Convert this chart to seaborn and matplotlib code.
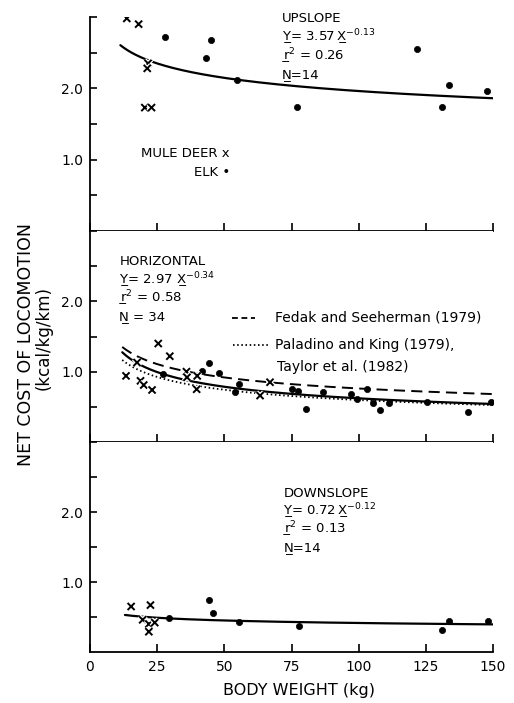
import numpy as np
import pandas as pd
import matplotlib
matplotlib.use("Agg")
import matplotlib.pyplot as plt
import seaborn as sns
from matplotlib import patheffects as pe

# ---------------- data ----------------
up_deer_x = [13.7, 18.1, 21.6, 21.3, 20.4, 22.9]
up_deer_y = [2.98, 2.90, 2.35, 2.28, 1.73, 1.73]
up_elk_x = [28.1, 43.0, 45.1, 54.8, 77.2, 121.8, 131.0, 133.6, 147.9]
up_elk_y = [2.72, 2.42, 2.68, 2.12, 1.74, 2.55, 1.74, 2.04, 1.96]

hz_deer_x = [25.4, 29.7, 13.4, 17.5, 18.8, 20.0, 23.1, 35.9, 36.1, 39.7, 39.9, 63.3, 67.0]
hz_deer_y = [1.40, 1.22, 0.94, 1.13, 0.87, 0.81, 0.74, 1.00, 0.92, 0.75, 0.94, 0.66, 0.85]
hz_elk_x = [27.3, 41.8, 44.3, 48.0, 53.8, 55.4, 75.0, 77.6, 80.4, 86.8, 97.1, 99.4,
            103.1, 105.3, 107.8, 111.3, 125.5, 140.7, 149.4]
hz_elk_y = [0.96, 1.01, 1.13, 0.98, 0.71, 0.83, 0.76, 0.72, 0.47, 0.71, 0.68, 0.61,
            0.75, 0.56, 0.46, 0.55, 0.57, 0.43, 0.57]

dn_deer_x = [15.3, 22.5, 19.6, 21.9, 24.1, 21.9]
dn_deer_y = [0.65, 0.67, 0.46, 0.40, 0.42, 0.29]
dn_elk_x = [29.3, 44.3, 45.7, 55.4, 77.8, 131.1, 133.6, 148.1]
dn_elk_y = [0.48, 0.74, 0.56, 0.43, 0.37, 0.31, 0.45, 0.44]

# power-law fits Y = a * X^b  (panel fits printed on the chart, plus literature curves)
panel_names = ["UPSLOPE", "HORIZONTAL", "DOWNSLOPE"]
fit_a = [3.57, 2.97, 0.72]
fit_b = [-0.13, -0.34, -0.12]
fit_r2 = ["0.26", "0.58", "0.13"]
fit_n = ["14", "34", "14"]
fit_xmin = [11.3, 12.0, 13.0]
fedak_ab = [2.65, -0.271]
taylor_ab = [2.557, -0.316]
lit_labels = ["Fedak and Seeherman (1979)", "Paladino and King (1979),", "Taylor et al. (1982)"]

xticks = [0, 25, 50, 75, 100, 125, 150]
yticks = [0.5, 1.0, 1.5, 2.0, 2.5, 3.0]
yticklabels = ["", "1.0", "", "2.0", "", ""]

# ---------------- style ----------------
sns.set_theme(style="white")
plt.rcParams["font.family"] = ["DejaVu Sans"]
plt.rcParams["mathtext.fontset"] = "dejavusans"
plt.rcParams["mathtext.default"] = "regular"
plt.rcParams["lines.scale_dashes"] = False
for k in ["text.color", "axes.labelcolor", "xtick.color", "ytick.color", "axes.edgecolor"]:
    plt.rcParams[k] = "black"

fig = plt.figure(figsize=(5.14, 7.03), dpi=100)
L, W = 90 / 514, 403 / 514
rects = [
    [L, (703 - 231) / 703, W, 214 / 703],
    [L, (703 - 442) / 703, W, 211 / 703],
    [L, (703 - 652) / 703, W, 210 / 703],
]
axes = [fig.add_axes(r) for r in rects]

deer_x = [up_deer_x, hz_deer_x, dn_deer_x]
deer_y = [up_deer_y, hz_deer_y, dn_deer_y]
elk_x = [up_elk_x, hz_elk_x, dn_elk_x]
elk_y = [up_elk_y, hz_elk_y, dn_elk_y]

halo = [pe.withStroke(linewidth=3.2, foreground="white")]
UL = "\u0332"  # combining low line -> underlined symbol


def curve(ax, a, b, xmin, **kw):
    xs = np.linspace(xmin, 150, 200)
    df = pd.DataFrame({"x": xs, "y": a * xs ** b})
    ax.plot(df["x"], df["y"], **kw)


text_pos = [  # (x, y0, dy) in axes fraction
    (0.476, 0.993, 0.087),
    (0.073, 0.855, 0.086),
    (0.480, 0.756, 0.086),
]

for i, ax in enumerate(axes):
    # regression curves
    if i == 1:
        curve(ax, fedak_ab[0], fedak_ab[1], fit_xmin[i], color="black", lw=1.4,
              dashes=(8, 4.5), zorder=1)
        curve(ax, taylor_ab[0], taylor_ab[1], fit_xmin[i], color="black", lw=1.3,
              dashes=(1.1, 1.9), zorder=1)
    curve(ax, fit_a[i], fit_b[i], fit_xmin[i], color="black", lw=1.6, zorder=1)

    dfe = pd.DataFrame({"x": elk_x[i], "y": elk_y[i]})
    dfd = pd.DataFrame({"x": deer_x[i], "y": deer_y[i]})
    sns.scatterplot(data=dfe, x="x", y="y", ax=ax, marker="o", s=20, color="black",
                    edgecolor="black", linewidth=0.5, zorder=3, legend=False)
    sc = sns.scatterplot(data=dfd, x="x", y="y", ax=ax, marker="x", s=26, color="black",
                         linewidth=1.4, zorder=4, legend=False)
    sc.collections[-1].set_path_effects(halo)

    ax.set_xlim(0, 150)
    ax.set_ylim(0, 3.0)
    ax.set_xticks(xticks)
    ax.set_yticks(yticks)
    ax.set_yticklabels(yticklabels)
    ax.set_xlabel("")
    ax.set_ylabel("")
    for s in ["top", "right"]:
        ax.spines[s].set_visible(False)
    for s in ["left", "bottom"]:
        ax.spines[s].set_linewidth(1.3)
        ax.spines[s].set_color("black")
    ax.tick_params(axis="y", direction="in", length=5, width=1.2, pad=5,
                   labelsize=10, colors="black", left=True)
    ax.tick_params(axis="x", direction="in", length=6, width=1.2, pad=6,
                   labelsize=10, colors="black", bottom=True)
    if i < 2:
        ax.tick_params(axis="x", labelbottom=False)

    # panel annotation block
    tx, ty, dy = text_pos[i]
    a_s = f"{fit_a[i]:.2f}"
    b_s = f"{fit_b[i]:.2f}"
    fs = 9.5
    sep = " " if i == 1 else "\u2009"
    kw = dict(transform=ax.transAxes, fontsize=fs, ha="left", va="center")
    ax.text(tx, ty, panel_names[i], **kw)
    ax.text(tx, ty - dy, "Y" + UL + "= " + a_s + sep + "X" + UL + r"$^{" + b_s + "}$", **kw)
    ax.text(tx, ty - 2 * dy, "r" + UL + r"$^{2}$ = " + fit_r2[i], **kw)
    ax.text(tx, ty - 3 * dy, "N" + UL + (" = " if i == 1 else "=") + fit_n[i], **kw)

# species key in the top panel
axes[0].text(0.347, 0.36, "MULE DEER x", transform=axes[0].transAxes, fontsize=9.5,
             ha="right", va="center")
axes[0].text(0.347, 0.272, "ELK \u2022", transform=axes[0].transAxes, fontsize=9.5,
             ha="right", va="center")

# literature-curve key in the middle panel
axm = axes[1]
axm.plot([0.352, 0.410], [0.588, 0.588], transform=axm.transAxes, color="black",
         lw=1.3, dashes=(4.2, 2.6))
axm.plot([0.354, 0.446], [0.460, 0.460], transform=axm.transAxes, color="black",
         lw=1.3, dashes=(1.1, 1.9))
axm.text(0.459, 0.588, lit_labels[0], transform=axm.transAxes, fontsize=10,
         ha="left", va="center")
axm.text(0.459, 0.460, lit_labels[1], transform=axm.transAxes, fontsize=10,
         ha="left", va="center")
axm.text(0.464, 0.357, lit_labels[2], transform=axm.transAxes, fontsize=10,
         ha="left", va="center")

# axis titles
fig.text(26 / 514, 1 - 344 / 703, "NET COST OF LOCOMOTION", rotation=90,
         fontsize=12.5, ha="center", va="center")
fig.text(44 / 514, 1 - 338 / 703, "(kcal/kg/km)", rotation=90,
         fontsize=12, ha="center", va="center")
fig.text(299 / 514, 1 - 690.5 / 703, "BODY WEIGHT (kg)", fontsize=11.5,
         ha="center", va="center")

fig.savefig("out.png", dpi=100)
